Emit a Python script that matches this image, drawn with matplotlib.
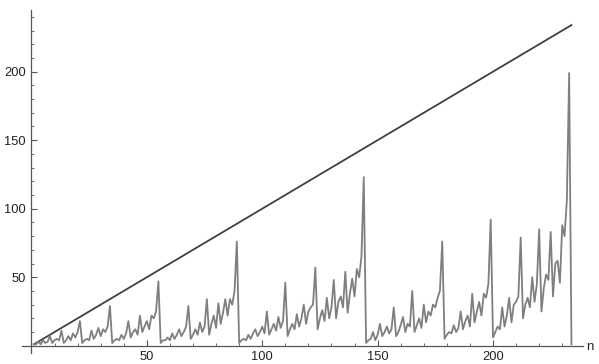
import numpy as np
import matplotlib.pyplot as plt
from matplotlib.ticker import MultipleLocator

# values, n = 1 .. 234
a_1_55 = [1, 1, 3, 1, 4, 2, 3, 7, 2, 4, 5, 4, 11, 2, 4, 7, 4, 9, 6, 10,
          18, 2, 4, 5, 4, 11, 5, 8, 13, 7, 12, 10, 14, 29, 2, 4, 5, 4, 8, 5,
          9, 18, 6, 10, 12, 8, 22, 10, 14, 18, 12, 22, 20, 25, 47]
a_56_89 = [2, 4, 4, 6, 4, 9, 5, 8, 12, 7, 10, 14, 29, 5, 8, 12, 8, 17, 10, 14,
           34, 8, 16, 22, 13, 31, 16, 24, 34, 22, 34, 30, 40, 76]
a_90_144 = [2, 4, 5, 4, 8, 5, 9, 12, 7, 10, 14, 9, 25, 8, 12, 16, 11, 21, 13, 18,
            46, 7, 12, 16, 12, 23, 14, 20, 30, 16, 25, 28, 30, 57, 12, 20, 26, 18, 35, 20,
            28, 48, 20, 32, 36, 28, 54, 24, 38, 49, 36, 56, 50, 65, 123]
a_145_234 = [2, 4, 5, 10, 4, 8, 16, 7, 10, 14, 9, 12, 28, 7, 10, 15, 21, 10, 16, 14,
             40, 10, 15, 20, 13, 30, 17, 25, 22, 30, 28, 35, 40, 76, 5, 8, 10, 9, 15, 10,
             13, 25, 12, 18, 22, 14, 38, 17, 25, 32, 22, 38, 35, 45, 92, 6, 10, 14, 12, 28,
             14, 22, 35, 17, 30, 32, 36, 79, 20, 30, 35, 28, 50, 32, 45, 85, 25, 42, 52, 48,
             83, 36, 60, 62, 46, 88, 80, 106, 199, 1]

a_vals = a_1_55 + a_56_89 + a_90_144 + a_145_234
n_vals = np.arange(1, len(a_vals) + 1)

fig = plt.figure(figsize=(5.99, 3.64), dpi=100)
ax = fig.add_axes([22 / 599, 11 / 364, 561 / 599, 343 / 364])

ax.plot(n_vals, n_vals, color='#404040', lw=1.3, zorder=2)
ax.plot(n_vals, a_vals, color='#7f7f7f', lw=1.3, zorder=3)

ax.set_xlim(-4.1, 239)
ax.set_ylim(-5.3, 245)

for s in ['top', 'right']:
    ax.spines[s].set_visible(False)
ax.spines['left'].set_position(('data', 0))
ax.spines['bottom'].set_position(('data', 0))
for s in ['left', 'bottom']:
    ax.spines[s].set_color('#555555')
    ax.spines[s].set_linewidth(0.9)

ax.xaxis.set_minor_locator(MultipleLocator(10))
ax.yaxis.set_minor_locator(MultipleLocator(10))
ax.set_xticks([50, 100, 150, 200])
ax.set_yticks([50, 100, 150, 200])
ax.tick_params(which='major', direction='in', length=4, width=0.8, color='#555555',
               labelsize=9.3, labelcolor='#222222', pad=4)
ax.tick_params(which='minor', direction='in', length=2.2, width=0.6, color='#555555')
for lab in ax.get_xticklabels() + ax.get_yticklabels():
    lab.set_fontfamily('Liberation Sans')

fig.text(590 / 599, 1 - 347 / 364, 'n', fontsize=9.5, family='Liberation Sans',
         color='#222222', ha='center', va='center')

fig.savefig('out.png', dpi=100)
